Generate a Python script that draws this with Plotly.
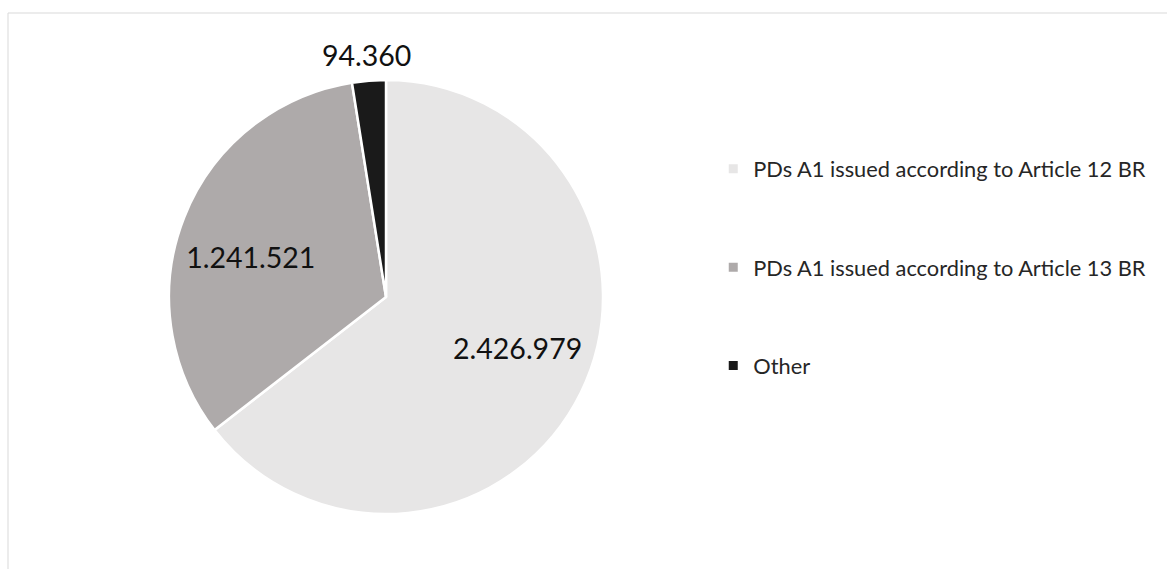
"""
PDs A1 issued by legal basis - pie chart
"""

import math
import plotly.graph_objects as go

# ─── Data ─────────────────────────────────────────────────────────────────────
LABELS = [
    "PDs A1 issued according to Article 12 BR",
    "PDs A1 issued according to Article 13 BR",
    "Other",
]
VALUES = [2426979, 1241521, 94360]
COLORS = ["#E7E6E6", "#AEAAAA", "#1A1A1A"]
INSIDE = [True, True, False]     # which slices carry their label inside

FONT = "Lato"
LABEL_FONT = dict(family=FONT, size=28.5, color="#111111")

# ─── Layout constants ─────────────────────────────────────────────────────────
W, H = 1167, 569
MARGIN = dict(l=8, r=0, t=13, b=0)
PIE_X = [0.1389, 0.5134]
PIE_Y = [0.0989, 0.8795]


def fmt(v: int) -> str:
    return f"{v:,}".replace(",", ".")


def outside_label_annotations() -> list:
    """Labels for the thin slices, set just beyond the rim at the slice mid-angle."""
    plot_w = W - MARGIN["l"] - MARGIN["r"]
    plot_h = H - MARGIN["t"] - MARGIN["b"]
    r_px = (PIE_Y[1] - PIE_Y[0]) * plot_h / 2
    cx = sum(PIE_X) / 2
    cy = sum(PIE_Y) / 2
    total = sum(VALUES)

    notes, cum = [], 0
    for v, inside in zip(VALUES, INSIDE):
        mid = (cum + v / 2) / total * 2 * math.pi   # clockwise from 12 o'clock
        cum += v
        if inside:
            continue
        notes.append(dict(
            text=fmt(v), showarrow=False, xref="paper", yref="paper",
            x=cx + 1.12 * r_px * math.sin(mid) / plot_w,
            y=cy + 1.12 * r_px * math.cos(mid) / plot_h,
            xanchor="center", yanchor="middle",
            font=LABEL_FONT,
        ))
    return notes


def build_figure() -> go.Figure:
    fig = go.Figure()

    common = dict(
        labels=LABELS, values=VALUES, sort=False, direction="clockwise",
        showlegend=False, domain=dict(x=PIE_X, y=PIE_Y),
    )

    # the pie itself
    fig.add_trace(go.Pie(
        **common, rotation=0,
        marker=dict(colors=COLORS, line=dict(color="white", width=2.5)),
        textinfo="none", hoverinfo="label+value",
    ))

    # transparent copy with a hole: pushes the inside labels out to ~2/3 radius
    fig.add_trace(go.Pie(
        **common, rotation=-5, hole=0.3,
        marker=dict(colors=["rgba(0,0,0,0)"] * len(VALUES), line=dict(width=0)),
        texttemplate=["%{value:,}" if i else "" for i in INSIDE],
        textposition="inside", insidetextorientation="horizontal",
        textfont=LABEL_FONT, hoverinfo="skip",
    ))

    # legend entries (separate groups so the spacing can be opened up)
    for name, color in zip(LABELS, COLORS):
        fig.add_trace(go.Scatter(
            x=[None], y=[None], mode="markers", name=name,
            legendgroup=name,
            marker=dict(symbol="square", size=9, color=color),
        ))

    fig.update_layout(
        width=W, height=H,
        margin=MARGIN,
        paper_bgcolor="white", plot_bgcolor="white",
        separators=",.",
        font=dict(family=FONT, color="#262626"),
        xaxis=dict(visible=False), yaxis=dict(visible=False),
        legend=dict(
            x=0.6085, y=0.542, xanchor="left", yanchor="middle",
            font=dict(family=FONT, size=21.8, color="#262626"),
            tracegroupgap=67, itemwidth=30,
        ),
        annotations=outside_label_annotations(),
        # chart area border (right and bottom edges run off the canvas)
        shapes=[dict(
            type="rect", xref="paper", yref="paper",
            x0=0, x1=1.1, y0=-0.1, y1=1,
            line=dict(color="#D9D9D9", width=1),
        )],
    )
    return fig


def main():
    fig = build_figure()
    # drop the default 8px body margin so the figure sits flush in the window
    fig.write_html(
        "out.html",
        config={"displayModeBar": False},
        post_script="document.body.style.margin='0';",
    )


if __name__ == "__main__":
    main()
